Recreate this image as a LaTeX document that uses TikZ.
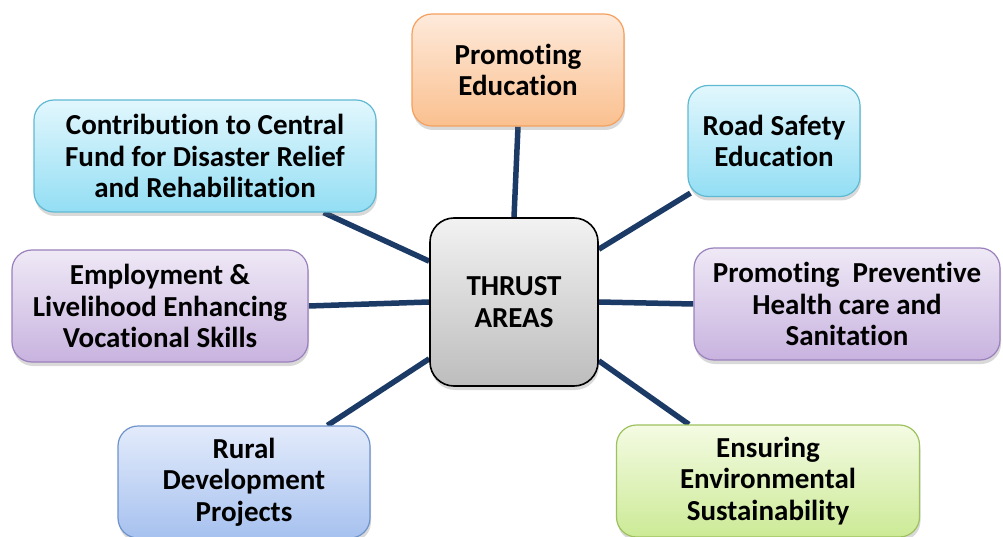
\documentclass[tikz,border=0pt]{standalone}
\usepackage{fontspec}
\setmainfont{Carlito}[Ligatures=NoCommon]
\usetikzlibrary{shadows,calc,backgrounds}
\definecolor{linkc}{HTML}{1B3A66}
\definecolor{orT}{HTML}{FEEADB}\definecolor{orB}{HTML}{FAC08F}\definecolor{orD}{HTML}{F5A05E}
\definecolor{cyT}{HTML}{E2F7FD}\definecolor{cyB}{HTML}{93DEF4}\definecolor{cyD}{HTML}{5FB9D3}
\definecolor{puT}{HTML}{EFE9F6}\definecolor{puB}{HTML}{C8B3DF}\definecolor{puD}{HTML}{9A80BC}
\definecolor{blT}{HTML}{E3EBFB}\definecolor{blB}{HTML}{A6C1EF}\definecolor{blD}{HTML}{6E93CB}
\definecolor{grT}{HTML}{F4FBE3}\definecolor{grB}{HTML}{CCEA96}\definecolor{grD}{HTML}{9DC15E}
\definecolor{gyT}{HTML}{F2F2F2}\definecolor{gyB}{HTML}{BDBDBD}
\tikzset{
  areabox/.style={rounded corners=20pt, line width=1.2pt, align=center,
    font=\fontsize{29}{31.5}\selectfont\bfseries, text=black, inner sep=0pt,
    drop shadow={shadow xshift=1pt, shadow yshift=-4pt, opacity=0.25, fill=black!60}},
  orbox/.style={areabox, draw=orD, top color=orT, bottom color=orB},
  cybox/.style={areabox, draw=cyD, top color=cyT, bottom color=cyB},
  pubox/.style={areabox, draw=puD, top color=puT, bottom color=puB},
  blbox/.style={areabox, draw=blD, top color=blT, bottom color=blB},
  grbox/.style={areabox, draw=grD, top color=grT, bottom color=grB},
  hubbox/.style={areabox, draw=black, line width=1.6pt, top color=gyT, bottom color=gyB,
    rounded corners=24pt},
  link/.style={draw=linkc, line width=5.5pt}
}
\begin{document}
\begin{tikzpicture}[x=1pt,y=-1pt]
\useasboundingbox (0,0) rectangle (1003,537);
\node[orbox, minimum width=212pt, minimum height=112pt] (edu) at (518,70) {Promoting\\Education};
\node[cybox, minimum width=172pt, minimum height=111pt] (road) at (774,141) {Road Safety\\Education};
\node[cybox, minimum width=342pt, minimum height=112pt] (contrib) at (205,156) {Contribution to Central\\Fund for Disaster Relief\\and Rehabilitation};
\node[pubox, minimum width=296pt, minimum height=112pt] (employ) at (160,306) {Employment \&\\Livelihood Enhancing\\Vocational Skills};
\node[hubbox, minimum width=168pt, minimum height=168pt] (hub) at (514,302) {THRUST\\AREAS};
\node[pubox, minimum width=306pt, minimum height=112pt] (prev) at (847,304) {Promoting\ \ Preventive\\Health care and\\Sanitation};
\node[blbox, minimum width=252pt, minimum height=112pt] (rural) at (244,482) {Rural\\Development\\Projects};
\node[grbox, minimum width=303pt, minimum height=112pt] (ensure) at (768,481) {Ensuring\\Environmental\\Sustainability};
\begin{scope}[on background layer]
\draw[link] (edu.south) -- (hub.north);
\draw[link] ($(hub.north east)+(0,32)$) -- ($(road.south west)+(3,-4)$);
\draw[link] (hub.east) -- (prev.west);
\draw[link] ($(hub.south east)+(0,-26)$) -- ($(ensure.north west)+(73,0)$);
\draw[link] ($(contrib.south east)+(-53,0)$) -- ($(hub.north west)+(0,44)$);
\draw[link] (employ.east) -- (hub.west);
\draw[link] ($(rural.north west)+(210,0)$) -- ($(hub.south west)+(0,-28)$);
\end{scope}
\end{tikzpicture}
\end{document}
